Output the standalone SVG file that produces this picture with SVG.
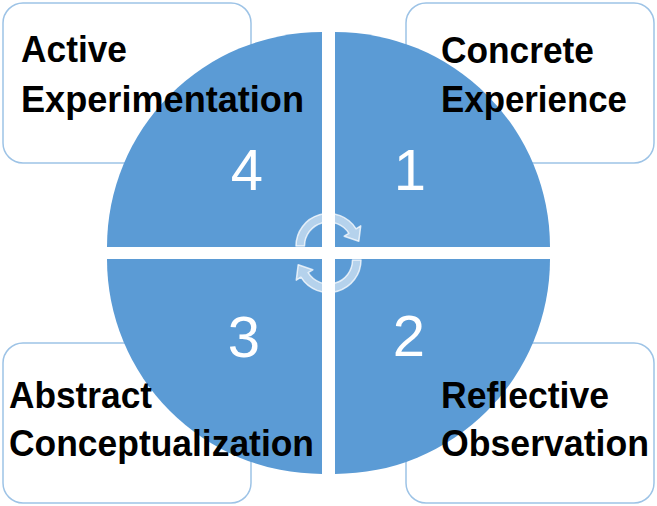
<svg xmlns="http://www.w3.org/2000/svg" width="657" height="506" viewBox="0 0 657 506">
<style>
.box{fill:#ffffff;stroke:#9dc3e6;stroke-width:1.5}
.quad{fill:#5b9bd5}
.lbl{font-family:"Liberation Sans",Arial,sans-serif;font-weight:bold;font-size:36px;fill:#000000}
.num{font-family:"Liberation Sans",Arial,sans-serif;font-size:58px;fill:#ffffff;text-anchor:middle}
.cyc{fill:#ffffff;fill-opacity:0.55;stroke:#ffffff;stroke-opacity:0.75;stroke-width:1.5;stroke-linejoin:round}
</style>
<rect width="657" height="506" fill="#ffffff"/>
<g id="boxes">
<rect id="box-active" class="box" x="3" y="3" width="248" height="160" rx="20"/>
<rect id="box-concrete" class="box" x="406" y="3" width="248" height="160" rx="20"/>
<rect id="box-abstract" class="box" x="3" y="343" width="248" height="160" rx="20"/>
<rect id="box-reflective" class="box" x="406" y="343" width="248" height="160" rx="20"/>
</g>
<g id="quadrant-4">
<path class="quad" d="M322 247 L107 247 A215 215 0 0 1 322 32 Z"/>
<text class="num" x="247" y="190">4</text>
</g>
<g id="quadrant-1">
<path class="quad" d="M335 247 L335 32 A215 215 0 0 1 550 247 Z"/>
<text class="num" x="410" y="190">1</text>
</g>
<g id="quadrant-2">
<path class="quad" d="M335 259 L550 259 A215 215 0 0 1 335 474 Z"/>
<text class="num" x="409" y="356">2</text>
</g>
<g id="quadrant-3">
<path class="quad" d="M322 259 L322 474 A215 215 0 0 1 107 259 Z"/>
<text class="num" x="244" y="357">3</text>
</g>
<g id="connectors">
<path class="cyc" d="M296 246 A32.5 32.5 0 0 1 356.06 228.78 L360.72 225.86 L358.82 241.21 L344.19 236.19 L348.85 233.28 A24 24 0 0 0 304.5 246 Z"/>
<path class="cyc" d="M361 260 A32.5 32.5 0 0 1 300.94 277.22 L296.28 280.14 L298.18 264.79 L312.81 269.81 L308.15 272.72 A24 24 0 0 0 352.5 260 Z"/>
</g>
<g id="label-active">
<text class="lbl" x="21" y="62" textLength="106" lengthAdjust="spacingAndGlyphs">Active</text>
<text class="lbl" x="21" y="112" textLength="283" lengthAdjust="spacingAndGlyphs">Experimentation</text>
</g>
<g id="label-concrete">
<text class="lbl" x="441" y="63" textLength="153" lengthAdjust="spacingAndGlyphs">Concrete</text>
<text class="lbl" x="441" y="112" textLength="186" lengthAdjust="spacingAndGlyphs">Experience</text>
</g>
<g id="label-abstract">
<text class="lbl" x="9" y="408" textLength="143" lengthAdjust="spacingAndGlyphs">Abstract</text>
<text class="lbl" x="9" y="456" textLength="305" lengthAdjust="spacingAndGlyphs">Conceptualization</text>
</g>
<g id="label-reflective">
<text class="lbl" x="441" y="408" textLength="168" lengthAdjust="spacingAndGlyphs">Reflective</text>
<text class="lbl" x="441" y="456" textLength="208" lengthAdjust="spacingAndGlyphs">Observation</text>
</g>
</svg>
